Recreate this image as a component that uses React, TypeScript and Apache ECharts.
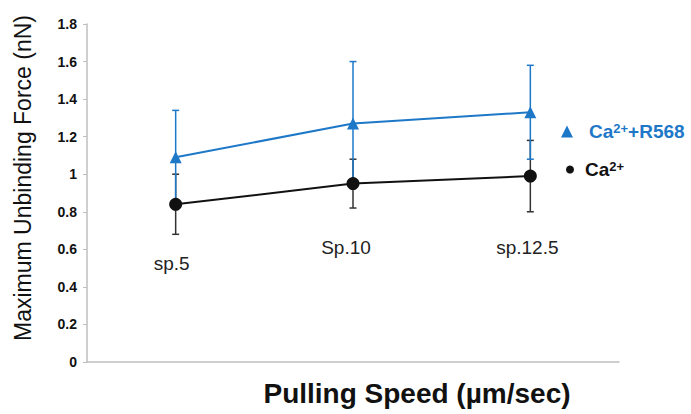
import React, { useEffect, useRef } from "react";
import * as echarts from "echarts";

// ---- data ----
const categories = ["sp.5", "Sp.10", "sp.12.5"];
const r568Values = [1.09, 1.27, 1.33];
const r568Errors = [0.25, 0.33, 0.25];
const caValues = [0.84, 0.95, 0.99];
const caErrors = [0.16, 0.13, 0.19];
const yMin = 0;
const yMax = 1.8;
const yInterval = 0.2;
const xTitle = "Pulling Speed (µm/sec)";
const yTitle = "Maximum Unbinding Force (nN)";

// ---- styling ----
const FONT = "'Liberation Sans', Arial, sans-serif";
const BLUE = "#1E78C8";
const BLACK = "#111111";
const catLabelOffsets = [
  { dx: -4, y: 263 },
  { dx: -7, y: 247 },
  { dx: -3, y: 247 },
];

function errorSeries(values: number[], errors: number[], color: string, z: number) {
  return {
    type: "custom",
    z,
    silent: true,
    data: values.map((v, i) => [i, v - errors[i], v + errors[i]]),
    encode: { x: 0, y: [1, 2] },
    renderItem: (params: any, api: any) => {
      const lo = api.coord([api.value(0), api.value(1)]);
      const hi = api.coord([api.value(0), api.value(2)]);
      const hw = 3.5;
      const style = { stroke: color, lineWidth: 1.5, fill: null };
      return {
        type: "group",
        children: [
          { type: "line", shape: { x1: hi[0], y1: hi[1], x2: lo[0], y2: lo[1] }, style },
          { type: "line", shape: { x1: hi[0] - hw, y1: hi[1], x2: hi[0] + hw, y2: hi[1] }, style },
          { type: "line", shape: { x1: lo[0] - hw, y1: lo[1], x2: lo[0] + hw, y2: lo[1] }, style },
        ],
      };
    },
  };
}

export default function App() {
  const ref = useRef<HTMLDivElement>(null);
  useEffect(() => {
    if (!ref.current) return;
    const chart = echarts.init(ref.current, null, { renderer: "svg" });
    chart.setOption({
      animation: false,
      backgroundColor: "#ffffff",
      textStyle: { fontFamily: FONT },
      grid: { left: 87, right: 72, top: 24, bottom: 52, containLabel: false },
      xAxis: {
        type: "category",
        data: categories,
        boundaryGap: true,
        axisLine: { show: true, lineStyle: { color: "#bfbfbf", width: 1.5 } },
        axisTick: { show: false },
        axisLabel: { show: false },
        splitLine: { show: false },
      },
      yAxis: {
        type: "value",
        min: yMin,
        max: yMax,
        interval: yInterval,
        axisLine: { show: true, lineStyle: { color: "#bfbfbf", width: 1.5 } },
        axisTick: { show: true, length: 4, lineStyle: { color: "#bfbfbf" } },
        axisLabel: {
          fontFamily: FONT,
          fontSize: 14,
          fontWeight: "bold",
          color: "#111111",
          margin: 10,
        },
        splitLine: { show: false },
      },
      legend: [
        {
          data: [{ name: "Ca2+ +R568", icon: "triangle" }],
          left: 556,
          top: 117,
          itemWidth: 12,
          itemHeight: 12,
          selectedMode: false,
          formatter: () => "{b|Ca}{s|2+}{b|+R568}",
          textStyle: {
            padding: [0, 0, 0, 11],
            rich: {
              b: { fontFamily: FONT, fontSize: 19, fontWeight: "bold", color: BLUE },
              s: { fontFamily: FONT, fontSize: 13, fontWeight: "bold", color: BLUE, verticalAlign: "top" },
            },
          },
        },
        {
          data: [{ name: "Ca2+", icon: "circle" }],
          left: 561,
          top: 155,
          itemWidth: 8,
          itemHeight: 8,
          selectedMode: false,
          formatter: () => "{b|Ca}{s|2+}",
          textStyle: {
            padding: [0, 0, 0, 6],
            rich: {
              b: { fontFamily: FONT, fontSize: 19, fontWeight: "bold", color: BLACK },
              s: { fontFamily: FONT, fontSize: 13, fontWeight: "bold", color: BLACK, verticalAlign: "top" },
            },
          },
        },
      ],
      series: [
        errorSeries(caValues, caErrors, "#333333", 1),
        errorSeries(r568Values, r568Errors, BLUE, 2),
        {
          name: "Ca2+",
          type: "line",
          z: 3,
          data: caValues,
          symbol: "circle",
          symbolSize: 13,
          lineStyle: { color: BLACK, width: 2 },
          itemStyle: { color: BLACK },
        },
        {
          name: "Ca2+ +R568",
          type: "line",
          z: 4,
          data: r568Values,
          symbol: "triangle",
          symbolSize: 12,
          lineStyle: { color: BLUE, width: 2 },
          itemStyle: { color: BLUE },
        },
      ],
    });

    const texts: any[] = categories.map((c, i) => {
      const px = chart.convertToPixel({ xAxisIndex: 0 }, c) as number;
      return {
        type: "text",
        x: px + catLabelOffsets[i].dx,
        y: catLabelOffsets[i].y,
        style: {
          text: c,
          fontFamily: FONT,
          fontSize: 19,
          fill: "#222222",
          align: "center",
          verticalAlign: "middle",
        },
      };
    });
    texts.push({
      type: "text",
      x: 417,
      y: 393,
      style: {
        text: xTitle,
        fontFamily: FONT,
        fontSize: 28,
        fontWeight: "bold",
        fill: "#111111",
        align: "center",
        verticalAlign: "middle",
      },
    });
    texts.push({
      type: "text",
      x: 23,
      y: 178,
      rotation: Math.PI / 2,
      style: {
        text: yTitle,
        fontFamily: FONT,
        fontSize: 23,
        fill: "#111111",
        align: "center",
        verticalAlign: "middle",
      },
    });
    chart.setOption({ graphic: texts });

    return () => chart.dispose();
  }, []);
  return (
    <div
      ref={ref}
      style={{ position: "fixed", left: 0, top: 0, width: 691, height: 414 }}
    />
  );
}
